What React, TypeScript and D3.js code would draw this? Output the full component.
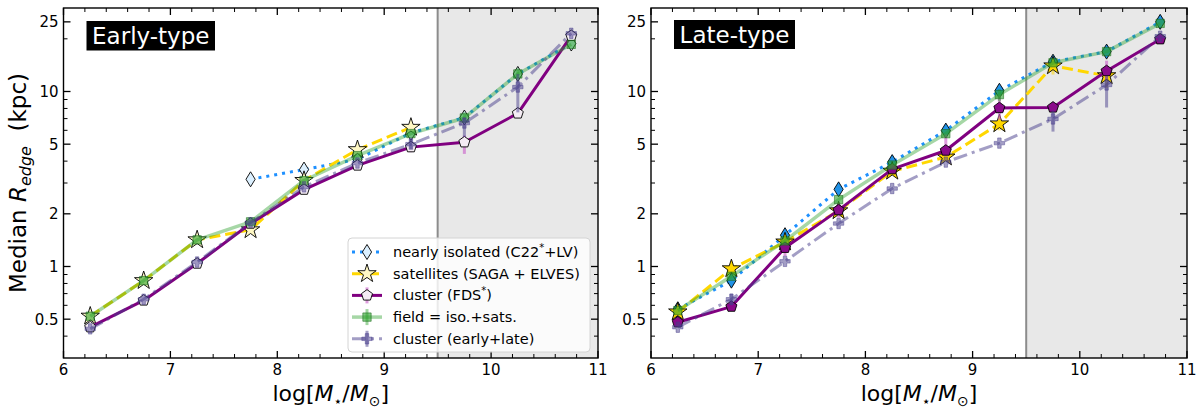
import React from 'react';
import * as d3 from 'd3';

// ---------------- data ----------------
const massBins = [6.25, 6.75, 7.25, 7.75, 8.25, 8.75, 9.25, 9.75, 10.25, 10.75];

// Early-type panel
const earlyIsolated = [null, null, null, 3.15, 3.58, 4.1, 5.8, 7.1, 12.6, 18.8];
const earlySatellites = [0.52, 0.83, 1.42, 1.62, 3.1, 4.65, 6.24, null, null, null];
const earlyClusterFDS = [0.45, 0.64, 1.04, 1.76, 2.75, 3.78, 4.81, 5.13, 7.5, 20.8];
const earlyField = [0.52, 0.83, 1.42, 1.8, 3.1, 4.3, 5.75, 7.06, 12.6, 18.6];
const earlyClusterAll = [0.44, 0.65, 1.06, 1.78, 2.85, 3.9, 5.0, 6.6, 10.6, 21.5];

const earlyFDSErr = [[0.42, 0.47], null, null, null, null, null, [4.5, 5.0], [4.4, 5.6], null, null];
const earlyFieldErr = [null, null, null, null, null, null, null, [6.6, 7.6], [11.6, 13.6], null];
const earlyClusterAllErr = [null, null, null, null, null, null, [4.7, 5.4], [5.5, 7.1], [7.6, 12.6], null];

// Late-type panel
const lateIsolated = [0.57, 0.83, 1.51, 2.76, 3.95, 5.98, 10.1, 14.8, 16.9, 25.0];
const lateSatellites = [0.55, 0.97, 1.38, 2.08, 3.5, 4.22, 6.53, 14.0, 12.3, null];
const lateClusterFDS = [0.48, 0.59, 1.28, 2.1, 3.6, 4.6, 8.05, 8.11, 13.1, 19.9];
const lateField = [0.56, 0.88, 1.4, 2.41, 3.8, 5.74, 9.6, 14.6, 16.9, 24.5];
const lateClusterAll = [0.45, 0.65, 1.07, 1.76, 2.79, 3.95, 5.07, 6.97, 10.9, 20.7];

const lateFDSErr = [null, [0.56, 0.62], [1.15, 1.36], [1.9, 2.3], null, [4.3, 5.7], [6.9, 9.5], null, [11.8, 15.0], null];
const lateSatErr = [null, null, null, null, null, null, [6.0, 7.2], [12.5, 15.0], [10.5, 13.0], null];
const lateFieldErr = [null, null, null, null, null, null, [8.8, 10.3], null, null, null];
const lateClusterAllErr = [null, [0.6, 0.7], null, null, null, null, null, [5.9, 7.8], [8.1, 12.3], null];

// axes
const xDomain = [6, 11];
const yDomain = [0.3, 30];
const xMajorTicks = [6, 7, 8, 9, 10, 11];
const yMajorTicks = [0.5, 1, 2, 5, 10, 25];
const yMajorLabels = ['0.5', '1', '2', '5', '10', '25'];
const yMinorTicks = [0.4, 0.6, 0.7, 0.8, 0.9, 3, 4, 6, 7, 8, 9, 20];
const shadeFrom = 9.5;

const legendLabels = [
  'nearly isolated (C22',
  'satellites (SAGA + ELVES)',
  'cluster (FDS',
  'field = iso.+sats.',
  'cluster (early+late)',
];

// ---------------- layout / style ----------------
const plotTop = 8;
const plotBottom = 358;
const FONT = 'DejaVu Sans, Liberation Sans, sans-serif';

const diamondPath = 'M0,-7.5L4.6,0L0,7.5L-4.6,0Z';
const starPath = d3.symbol(d3.symbolStar, 105)() as string;
const pentagonPath =
  (d3.line()(
    d3.range(5).map((i) => {
      const a = -Math.PI / 2 + (i * 2 * Math.PI) / 5;
      return [5.8 * Math.cos(a), 5.8 * Math.sin(a)] as [number, number];
    })
  ) as string) + 'Z';
const squarePath = d3.symbol(d3.symbolSquare, 70)() as string;
const plusPath = d3.symbol(d3.symbolCross, 60)() as string;

type Style = {
  stroke: string;
  width: number;
  dash?: string;
  lineOpacity?: number;
  marker: string;
  fill: string;
  markerStroke: string;
  markerOpacity?: number;
  errColor: string;
};

const styles = (light: boolean): Style[] => [
  { stroke: '#1E90FF', width: 3, dash: '3,5', marker: diamondPath, fill: light ? '#dcf0ff' : '#2092e6', markerStroke: '#000', errColor: '#1E90FF' },
  { stroke: '#FFD700', width: 3, dash: '11,5', marker: starPath, fill: light ? '#fff8c4' : '#FFD700', markerStroke: '#000', errColor: 'rgba(255,215,0,0.55)' },
  { stroke: '#800080', width: 3, marker: pentagonPath, fill: light ? '#f4ecf4' : '#8a0a8a', markerStroke: '#000', errColor: 'rgba(200,90,200,0.6)' },
  { stroke: '#2ca02c', width: 3.5, lineOpacity: 0.42, marker: squarePath, fill: '#2ca02c', markerStroke: '#1a6a1a', markerOpacity: 0.6, errColor: 'rgba(44,160,44,0.45)' },
  { stroke: '#483D8B', width: 3, dash: '14,5,3,5', lineOpacity: 0.5, marker: plusPath, fill: '#483D8B', markerStroke: '#483D8B', markerOpacity: 0.5, errColor: 'rgba(72,61,139,0.5)' },
];

type PanelSpec = {
  key: string;
  left: number;
  right: number;
  title: string;
  titleBox: [number, number, number, number];
  light: boolean;
  series: (number | null)[][];
  errs: (number[] | null)[][];
  legend: boolean;
  ylabel: boolean;
};

const panels: PanelSpec[] = [
  {
    key: 'early', left: 63.5, right: 598, title: 'Early-type', titleBox: [86.5, 21, 128.5, 29.5], light: true,
    series: [earlyIsolated, earlySatellites, earlyClusterFDS, earlyField, earlyClusterAll],
    errs: [[], [], earlyFDSErr, earlyFieldErr, earlyClusterAllErr],
    legend: true, ylabel: true,
  },
  {
    key: 'late', left: 651, right: 1187, title: 'Late-type', titleBox: [674, 20, 121, 29], light: false,
    series: [lateIsolated, lateSatellites, lateClusterFDS, lateField, lateClusterAll],
    errs: [[], lateSatErr, lateFDSErr, lateFieldErr, lateClusterAllErr],
    legend: false, ylabel: false,
  },
];

function Panel({ p }: { p: PanelSpec }) {
  const x = d3.scaleLinear().domain(xDomain).range([p.left, p.right]);
  const y = d3.scaleLog().domain(yDomain).range([plotBottom, plotTop]);
  const st = styles(p.light);
  const lineGen = d3
    .line<[number, number | null]>()
    .defined((d) => d[1] != null)
    .x((d) => x(d[0]))
    .y((d) => y(d[1] as number));

  const xMinor = d3.range(6, 11.001, 0.2).filter((v) => Math.abs(v - Math.round(v)) > 0.01);
  const cx = (p.left + p.right) / 2;
  const cy = (plotTop + plotBottom) / 2;

  return (
    <g>
      {/* shaded region */}
      <rect x={x(shadeFrom)} y={plotTop} width={x(xDomain[1]) - x(shadeFrom)} height={plotBottom - plotTop} fill="#e8e8e8" />
      <line x1={x(shadeFrom)} x2={x(shadeFrom)} y1={plotTop} y2={plotBottom} stroke="#8c8c8c" strokeWidth={2} />

      {/* series */}
      {p.series.map((vals, si) => {
        const s = st[si];
        const pts = massBins.map((m, i) => [m, vals[i]] as [number, number | null]);
        const errs = p.errs[si] || [];
        return (
          <g key={si}>
            {errs.map((e, i) =>
              e && vals[i] != null ? (
                <line key={'e' + i} x1={x(massBins[i])} x2={x(massBins[i])} y1={y(e[0])} y2={y(e[1])} stroke={s.errColor} strokeWidth={3} />
              ) : null
            )}
            <path d={lineGen(pts) as string} fill="none" stroke={s.stroke} strokeWidth={s.width} strokeDasharray={s.dash} strokeOpacity={s.lineOpacity ?? 1} strokeLinejoin="round" />
            {pts.map((d, i) =>
              d[1] != null ? (
                <path key={'m' + i} d={s.marker} transform={`translate(${x(d[0])},${y(d[1] as number)})`} fill={s.fill} fillOpacity={s.markerOpacity ?? 1} stroke={s.markerStroke} strokeOpacity={s.markerOpacity ?? 1} strokeWidth={0.9} />
              ) : null
            )}
          </g>
        );
      })}

      {/* ticks */}
      {xMajorTicks.map((t) => (
        <g key={'xM' + t}>
          <line x1={x(t)} x2={x(t)} y1={plotBottom} y2={plotBottom - 7} stroke="#000" strokeWidth={1.3} />
          <line x1={x(t)} x2={x(t)} y1={plotTop} y2={plotTop + 7} stroke="#000" strokeWidth={1.3} />
          <text x={x(t)} y={375} textAnchor="middle" fontSize={15} fontFamily={FONT}>{t}</text>
        </g>
      ))}
      {xMinor.map((t) => (
        <g key={'xm' + t.toFixed(1)}>
          <line x1={x(t)} x2={x(t)} y1={plotBottom} y2={plotBottom - 4} stroke="#000" strokeWidth={1} />
          <line x1={x(t)} x2={x(t)} y1={plotTop} y2={plotTop + 4} stroke="#000" strokeWidth={1} />
        </g>
      ))}
      {yMajorTicks.map((t, i) => (
        <g key={'yM' + t}>
          <line x1={p.left} x2={p.left + 7} y1={y(t)} y2={y(t)} stroke="#000" strokeWidth={1.3} />
          <line x1={p.right} x2={p.right - 7} y1={y(t)} y2={y(t)} stroke="#000" strokeWidth={1.3} />
          <text x={p.left - 5} y={y(t) + 5.5} textAnchor="end" fontSize={15} fontFamily={FONT}>{yMajorLabels[i]}</text>
        </g>
      ))}
      {yMinorTicks.map((t) => (
        <g key={'ym' + t}>
          <line x1={p.left} x2={p.left + 4} y1={y(t)} y2={y(t)} stroke="#000" strokeWidth={1} />
          <line x1={p.right} x2={p.right - 4} y1={y(t)} y2={y(t)} stroke="#000" strokeWidth={1} />
        </g>
      ))}

      {/* frame */}
      <rect x={p.left} y={plotTop} width={p.right - p.left} height={plotBottom - plotTop} fill="none" stroke="#000" strokeWidth={1.4} />

      {/* title box */}
      <rect x={p.titleBox[0]} y={p.titleBox[1]} width={p.titleBox[2]} height={p.titleBox[3]} fill="#000" />
      <text x={p.titleBox[0] + p.titleBox[2] / 2} y={p.titleBox[1] + p.titleBox[3] / 2 + 8} textAnchor="middle" fontSize={23} fill="#fff" fontFamily={FONT}>{p.title}</text>

      {/* x label */}
      <text x={cx} y={401} textAnchor="middle" fontSize={22} fontFamily={FONT}>
        log[<tspan fontStyle="italic">M</tspan>
        <tspan fontSize={14} dy={5}>⋆</tspan>
        <tspan dy={-5}>/</tspan>
        <tspan fontStyle="italic">M</tspan>
        <tspan fontSize={14} dy={5}>⊙</tspan>
        <tspan dy={-5}>]</tspan>
      </text>

      {/* y label */}
      {p.ylabel && (
        <text transform={`translate(26,${cy}) rotate(-90)`} textAnchor="middle" fontSize={23} fontFamily={FONT}>
          Median <tspan fontStyle="italic">R</tspan>
          <tspan fontStyle="italic" fontSize={16} dy={5}>edge</tspan>
          <tspan dy={-5}>{'\u00a0\u00a0(kpc)'}</tspan>
        </text>
      )}

      {p.legend && <Legend st={st} />}
    </g>
  );
}

function Legend({ st }: { st: Style[] }) {
  const bx = 348, by = 238, bw = 242, bh = 114;
  const rowY = (i: number) => by + 14 + i * 21.7;
  const lx0 = 352, lx1 = 382, mx = 367, tx = 393;
  return (
    <g>
      <rect x={bx} y={by} width={bw} height={bh} rx={4} fill="#fff" fillOpacity={0.82} stroke="#d4d4d4" strokeWidth={1} />
      {st.map((s, i) => (
        <g key={i}>
          {i >= 2 && <line x1={mx} x2={mx} y1={rowY(i) - 8} y2={rowY(i) + 8} stroke={s.errColor} strokeWidth={3} />}
          <line x1={lx0} x2={lx1} y1={rowY(i)} y2={rowY(i)} stroke={s.stroke} strokeWidth={s.width} strokeDasharray={s.dash} strokeOpacity={s.lineOpacity ?? 1} />
          <path d={s.marker} transform={`translate(${mx},${rowY(i)})`} fill={s.fill} fillOpacity={s.markerOpacity ?? 1} stroke={s.markerStroke} strokeOpacity={s.markerOpacity ?? 1} strokeWidth={0.9} />
          <text x={tx} y={rowY(i) + 5} fontSize={14.5} fontFamily={FONT}>
            {legendLabels[i]}
            {i === 0 && (
              <>
                <tspan fontSize={10} dy={-6}>*</tspan>
                <tspan dy={6}>+LV)</tspan>
              </>
            )}
            {i === 2 && (
              <>
                <tspan fontSize={10} dy={-6}>*</tspan>
                <tspan dy={6}>)</tspan>
              </>
            )}
          </text>
        </g>
      ))}
    </g>
  );
}

export default function App() {
  return (
    <div style={{ position: 'absolute', left: 0, top: 0 }}>
      <svg width={1200} height={410} style={{ display: 'block' }} fontFamily={FONT}>
        <rect width={1200} height={410} fill="#fff" />
        {panels.map((p) => (
          <Panel key={p.key} p={p} />
        ))}
      </svg>
    </div>
  );
}
